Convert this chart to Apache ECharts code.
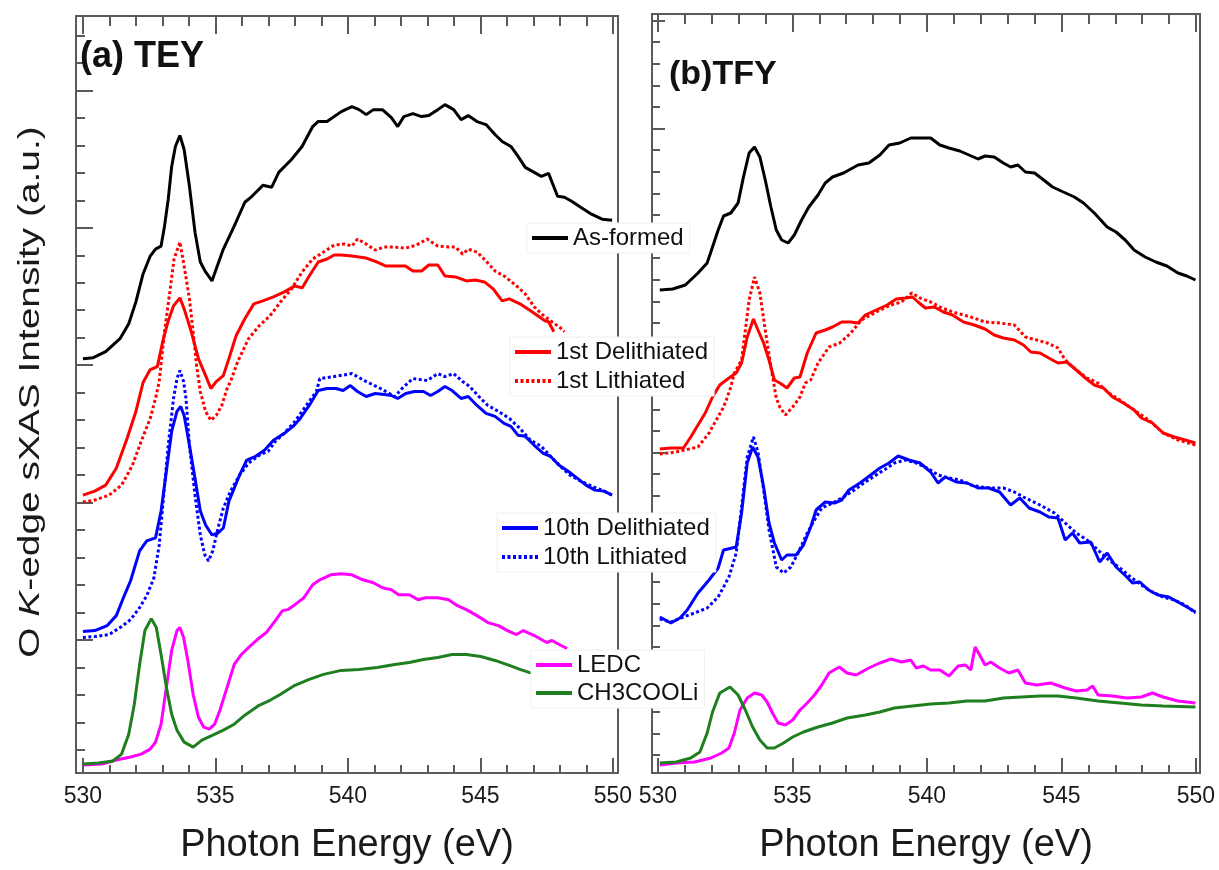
<!DOCTYPE html>
<html>
<head>
<meta charset="utf-8">
<title>O K-edge sXAS</title>
<script src="https://cdn.jsdelivr.net/npm/echarts@6/dist/echarts.min.js"></script>
<style>
  html, body { margin: 0; padding: 0; background: #fff; }
  #chart { width: 1219px; height: 870px; }
</style>
</head>
<body>
<div id="chart"></div>
<script>
// [photon energy (eV), intensity (a.u., offset per curve)]
const teyAsFormed = [[530.00,416],[530.39,417],[530.86,423],[531.40,436],[531.73,451],[532.00,473],[532.27,501],[532.54,519],[532.74,526],[532.95,529],[533.08,549],[533.22,576],[533.35,609],[533.49,629],[533.66,640],[533.82,626],[534.02,589],[534.23,543],[534.43,513],[534.63,503],[534.87,494],[535.03,506],[535.30,526],[535.71,549],[536.11,573],[536.38,579],[536.79,590],[537.12,588],[537.39,603],[537.87,616],[538.27,629],[538.67,649],[538.87,654],[539.21,654],[539.75,664],[540.15,669],[540.42,666],[540.69,661],[540.96,666],[541.30,666],[541.64,658],[541.88,649],[542.11,659],[542.45,662],[542.78,659],[543.05,660],[543.39,666],[543.66,671],[543.99,666],[544.27,656],[544.54,660],[544.87,654],[545.21,651],[545.55,641],[545.82,634],[546.15,629],[546.42,619],[546.69,608],[546.96,604],[547.30,599],[547.57,602],[547.91,579],[548.17,578],[548.44,574],[548.78,568],[549.19,561],[549.59,556],[549.97,555]];
const teyDelith1 = [[530.00,279],[530.45,283],[530.86,289],[531.26,306],[531.67,336],[532.00,363],[532.27,392],[532.54,405],[532.81,408],[533.01,433],[533.21,453],[533.42,469],[533.66,477],[533.82,466],[534.09,443],[534.36,416],[534.63,399],[534.83,386],[535.03,393],[535.30,399],[535.51,416],[535.78,439],[536.11,456],[536.45,471],[536.79,474],[537.19,478],[537.60,483],[538.00,489],[538.27,487],[538.54,499],[538.88,513],[539.21,516],[539.48,520],[539.75,520],[540.15,519],[540.69,517],[541.10,513],[541.44,509],[541.77,509],[542.17,509],[542.45,504],[542.78,504],[543.05,510],[543.39,510],[543.66,499],[544.06,498],[544.47,494],[544.81,495],[545.15,493],[545.48,486],[545.82,474],[546.09,476],[546.49,471],[546.89,464],[547.16,459],[547.43,454],[547.57,453],[547.77,443]];
const teyLith1 = [[530.00,272],[530.45,274],[530.99,279],[531.46,289],[531.87,309],[532.20,333],[532.54,356],[532.74,376],[532.88,393],[533.08,443],[533.28,483],[533.44,516],[533.66,533],[533.82,509],[534.02,476],[534.16,443],[534.29,409],[534.43,383],[534.63,363],[534.83,354],[535.03,359],[535.24,369],[535.44,386],[535.57,393],[535.84,413],[536.25,436],[536.65,449],[537.06,459],[537.46,473],[537.87,486],[538.27,503],[538.67,516],[539.08,523],[539.48,530],[539.89,531],[540.15,529],[540.36,536],[540.69,531],[541.03,525],[541.37,528],[541.77,528],[542.18,527],[542.58,530],[542.99,536],[543.39,529],[543.80,528],[544.06,528],[544.33,521],[544.54,526],[544.87,523],[545.21,514],[545.55,504],[545.95,498],[546.36,489],[546.69,481],[547.03,468],[547.30,461],[547.64,454],[547.97,448],[548.17,443]];
const teyDelith10 = [[530.00,142],[530.45,143],[530.92,148],[531.26,158],[531.53,176],[531.80,193],[532.14,223],[532.41,233],[532.74,236],[532.95,263],[533.15,303],[533.35,343],[533.55,363],[533.69,368],[533.82,359],[534.02,329],[534.23,296],[534.43,263],[534.63,249],[534.87,239],[535.10,241],[535.30,246],[535.51,273],[535.71,286],[535.91,299],[536.18,314],[536.52,318],[536.85,324],[537.19,334],[537.60,341],[537.93,348],[538.20,356],[538.54,369],[538.88,384],[539.21,386],[539.55,386],[539.82,384],[540.09,389],[540.36,383],[540.69,378],[541.03,381],[541.37,380],[541.64,379],[541.88,376],[542.18,381],[542.51,383],[542.85,383],[543.12,379],[543.39,383],[543.66,388],[543.93,384],[544.27,376],[544.54,378],[544.87,369],[545.21,361],[545.55,358],[545.89,351],[546.15,348],[546.42,339],[546.69,338],[547.03,329],[547.37,321],[547.64,318],[547.97,309],[548.31,303],[548.65,296],[548.98,289],[549.32,284],[549.66,283],[549.97,279]];
const teyLith10 = [[530.00,136],[530.45,137],[530.99,139],[531.46,147],[531.80,154],[532.14,166],[532.41,178],[532.68,196],[532.88,229],[533.04,276],[533.22,329],[533.42,376],[533.55,396],[533.66,404],[533.80,393],[533.89,376],[534.02,329],[534.23,279],[534.43,239],[534.60,219],[534.74,213],[534.90,223],[535.10,246],[535.30,266],[535.57,283],[535.91,299],[536.25,311],[536.65,319],[536.99,323],[537.26,333],[537.60,341],[538.00,353],[538.40,368],[538.81,383],[538.94,396],[539.48,398],[540.15,401],[540.69,393],[541.23,386],[541.77,378],[542.04,386],[542.45,396],[542.99,394],[543.39,401],[543.66,398],[543.99,401],[544.33,393],[544.60,388],[544.94,378],[545.28,369],[545.68,363],[546.09,356],[546.49,346],[546.89,334],[547.30,328],[547.64,318],[547.97,309],[548.38,299],[548.78,293],[549.19,288],[549.59,284],[549.97,279]];
const teyLedc = [[530.00,8],[530.72,9],[531.26,13],[531.80,16],[532.20,19],[532.54,24],[532.74,31],[532.95,49],[533.15,86],[533.35,123],[533.55,143],[533.66,146],[533.80,136],[533.96,113],[534.16,79],[534.36,56],[534.56,46],[534.77,44],[534.97,49],[535.17,63],[535.44,86],[535.71,109],[535.98,119],[536.25,126],[536.58,134],[536.92,141],[537.26,153],[537.53,163],[537.73,164],[538.00,169],[538.34,176],[538.67,189],[538.94,194],[539.35,199],[539.75,200],[540.15,199],[540.56,194],[540.96,191],[541.30,186],[541.64,184],[541.91,179],[542.31,179],[542.65,174],[542.92,176],[543.39,176],[543.80,174],[544.13,168],[544.47,164],[544.87,158],[545.28,151],[545.68,148],[546.02,143],[546.36,139],[546.62,143],[547.03,138],[547.50,131],[547.70,133],[548.04,128],[548.27,125]];
const teyAcetate = [[530.00,9],[530.59,10],[531.13,12],[531.46,19],[531.73,39],[531.94,69],[532.14,109],[532.34,143],[532.58,155],[532.77,146],[532.95,119],[533.15,86],[533.35,59],[533.55,43],[533.82,31],[534.16,26],[534.49,33],[534.90,38],[535.30,43],[535.71,49],[536.11,58],[536.65,68],[537.06,73],[537.46,79],[538.00,88],[538.54,94],[539.08,99],[539.75,103],[540.42,104],[541.10,106],[541.77,109],[542.31,111],[542.85,114],[543.39,116],[543.93,119],[544.47,119],[545.01,117],[545.55,113],[546.09,108],[546.49,104],[546.83,101],[547.57,98],[548.24,96]];

const tfyAsFormed = [[530.07,483],[530.55,484],[531.02,488],[531.49,500],[531.83,510],[532.03,526],[532.24,543],[532.44,557],[532.71,560],[532.98,570],[533.18,596],[533.39,620],[533.59,626],[533.79,616],[533.99,593],[534.20,566],[534.40,543],[534.60,533],[534.84,530],[535.07,538],[535.34,553],[535.61,566],[535.95,578],[536.22,590],[536.49,596],[536.90,600],[537.44,608],[537.84,610],[538.25,618],[538.59,628],[538.99,630],[539.40,635],[539.74,635],[540.14,635],[540.48,628],[540.82,625],[541.22,622],[541.56,618],[541.90,614],[542.16,617],[542.50,616],[542.84,610],[543.11,606],[543.38,608],[543.66,601],[544.00,600],[544.34,593],[544.67,586],[545.07,581],[545.48,576],[545.82,570],[546.22,560],[546.70,546],[547.03,541],[547.37,533],[547.70,523],[548.11,516],[548.51,511],[548.92,507],[549.33,500],[549.66,497],[549.98,493]];
const tfyDelith1 = [[530.07,324],[530.48,325],[530.95,325],[531.22,336],[531.49,348],[531.76,360],[532.03,376],[532.30,388],[532.64,395],[532.91,400],[533.11,410],[533.32,436],[533.55,454],[533.72,443],[533.93,430],[534.13,413],[534.33,393],[534.53,390],[534.80,385],[535.07,395],[535.28,396],[535.55,420],[535.88,440],[536.22,443],[536.49,446],[536.83,451],[537.17,451],[537.44,450],[537.71,458],[538.11,463],[538.52,468],[538.86,474],[539.20,475],[539.46,476],[539.67,471],[539.94,465],[540.28,466],[540.61,461],[540.95,458],[541.36,451],[541.76,448],[542.16,444],[542.50,438],[542.84,435],[543.25,433],[543.59,428],[543.86,421],[544.20,420],[544.53,415],[544.87,410],[545.20,411],[545.55,403],[545.89,395],[546.22,388],[546.56,385],[546.90,376],[547.30,370],[547.70,363],[547.97,355],[548.38,350],[548.78,340],[549.19,336],[549.60,333],[549.98,330]];
const tfyLith1 = [[530.07,319],[530.68,321],[531.49,326],[531.90,340],[532.17,353],[532.44,366],[532.57,375],[532.71,386],[532.84,400],[533.11,413],[533.39,473],[533.59,496],[533.79,480],[533.99,443],[534.20,406],[534.40,375],[534.53,366],[534.74,358],[535.01,366],[535.28,376],[535.48,390],[535.68,393],[535.95,410],[536.36,426],[536.76,430],[537.17,440],[537.57,453],[538.11,461],[538.66,468],[539.06,471],[539.44,480],[539.74,475],[540.14,471],[540.55,465],[541.09,460],[541.63,456],[542.16,451],[542.70,450],[543.25,448],[543.66,436],[544.08,433],[544.47,430],[544.87,425],[545.14,413],[545.55,403],[545.95,395],[546.36,390],[546.76,380],[547.17,373],[547.70,363],[548.24,353],[548.78,340],[549.33,333],[549.98,328]];
const tfyDelith10 = [[530.07,156],[530.48,150],[530.82,155],[531.09,163],[531.49,180],[531.90,193],[532.24,205],[532.44,223],[532.91,226],[533.11,260],[533.32,310],[533.52,326],[533.72,316],[533.93,286],[534.13,250],[534.33,230],[534.60,213],[534.80,218],[535.14,218],[535.41,228],[535.68,246],[535.88,263],[536.22,271],[536.56,270],[536.83,273],[537.10,283],[537.51,290],[537.91,298],[538.25,305],[538.59,310],[538.93,317],[539.33,313],[539.74,310],[540.14,301],[540.41,290],[540.68,296],[541.09,291],[541.49,290],[541.90,285],[542.30,285],[542.70,281],[543.11,268],[543.45,275],[543.80,265],[544.20,261],[544.53,256],[544.87,255],[545.14,233],[545.41,240],[545.68,230],[546.09,231],[546.42,211],[546.70,220],[547.03,206],[547.43,196],[547.64,190],[547.91,191],[548.24,183],[548.58,178],[548.99,176],[549.33,171],[549.73,165],[549.98,161]];
const tfyLith10 = [[530.07,154],[530.48,151],[530.95,156],[531.36,160],[531.83,165],[532.24,176],[532.64,196],[532.91,220],[533.11,266],[533.32,316],[533.55,336],[533.72,321],[533.93,283],[534.13,243],[534.40,206],[534.67,200],[534.94,206],[535.21,220],[535.55,240],[535.82,253],[536.09,265],[536.49,270],[536.90,276],[537.30,283],[537.71,291],[538.11,298],[538.52,305],[538.79,310],[539.20,313],[539.60,310],[540.01,305],[540.41,298],[540.82,295],[541.22,293],[541.63,288],[542.03,286],[542.43,285],[542.84,285],[543.25,281],[543.66,275],[544.20,268],[544.74,260],[545.14,250],[545.55,240],[545.95,233],[546.36,223],[546.76,213],[547.17,205],[547.57,196],[547.97,188],[548.38,181],[548.78,176],[549.19,173],[549.60,168],[549.98,160]];
const tfyLedc = [[530.07,8],[530.68,10],[531.36,11],[531.97,15],[532.37,20],[532.64,25],[532.84,40],[533.05,63],[533.32,75],[533.59,80],[533.86,78],[534.06,71],[534.26,60],[534.47,50],[534.74,48],[535.01,53],[535.28,63],[535.55,70],[535.82,78],[536.09,88],[536.36,100],[536.74,106],[537.03,100],[537.37,98],[537.84,105],[538.25,110],[538.66,114],[539.06,111],[539.40,113],[539.60,105],[539.87,107],[540.14,103],[540.48,103],[540.82,97],[541.16,107],[541.43,108],[541.63,103],[541.79,126],[541.96,118],[542.16,108],[542.37,111],[542.70,105],[543.05,100],[543.38,103],[543.66,90],[544.08,88],[544.60,90],[545.14,85],[545.55,82],[545.95,83],[546.16,87],[546.36,78],[546.90,77],[547.43,75],[547.97,76],[548.38,80],[548.78,76],[549.33,72],[549.98,70]];
const tfyAcetate = [[530.07,10],[530.68,11],[531.22,15],[531.56,21],[531.83,40],[532.03,61],[532.30,80],[532.68,86],[532.98,78],[533.25,63],[533.52,46],[533.79,33],[534.06,25],[534.33,25],[534.67,30],[535.01,36],[535.41,41],[535.95,46],[536.49,50],[537.03,55],[537.71,58],[538.25,61],[538.79,65],[539.46,67],[540.14,69],[540.82,70],[541.49,72],[542.16,72],[542.84,75],[543.52,76],[544.20,77],[544.87,77],[545.55,75],[546.36,72],[547.17,70],[547.97,68],[548.78,67],[549.98,66]];

const energyLabels = [530, 535, 540, 545, 550];
const energyMinor = [530, 531, 532, 533, 534, 535, 536, 537, 538, 539, 540, 541, 542, 543, 544, 545, 546, 547, 548, 549, 550];

const FONT = "'Liberation Sans', Arial, Helvetica, sans-serif";
const FRAME = '#5a5a5a';
const RED = '#ff0000', BLUE = '#0000ff', BLACK = '#000000', MAGENTA = '#ff00ff', GREEN = '#1f7f1f';
const DOTS = [3, 2.5];

// y ticks are plain axis decoration, evenly spaced
const teyTicks = [], teyMajor = [];
for (let i = 0; i <= 26; i++) { teyTicks.push(23 + 27.6 * i); if (i % 5 === 4) teyMajor.push(23 + 27.6 * i); }
const tfyTicks = [], tfyMajor = [];
for (let i = 0; i <= 34; i++) { tfyTicks.push(18 + 21.6 * i); if (i % 5 === 4) tfyMajor.push(18 + 21.6 * i); }

const chart = echarts.init(document.getElementById('chart'));

function energyAxis(grid, range, pos, ticks, len, labels) {
  const ax = {
    type: 'value', gridIndex: grid, position: pos, min: range[0], max: range[1],
    axisLine: {show: false},
    splitLine: {show: false},
    axisTick: {show: true, inside: true, length: len, customValues: ticks, lineStyle: {color: FRAME, width: 2}},
    axisLabel: {show: false}
  };
  if (labels) {
    ax.axisLabel = {show: true, customValues: energyLabels, margin: 12, fontSize: 23, color: '#1a1a1a', fontFamily: FONT};
    ax.name = 'Photon Energy (eV)';
    ax.nameLocation = 'middle';
    ax.nameGap = 54;
    ax.nameTextStyle = {fontSize: 38, color: '#1a1a1a', fontFamily: FONT};
  }
  return ax;
}

function intensityAxis(grid, max, ticks, len) {
  return {
    type: 'value', gridIndex: grid, position: 'left', min: 0, max: max,
    axisLine: {show: false},
    splitLine: {show: false},
    axisLabel: {show: false},
    axisTick: {show: true, inside: true, length: len, customValues: ticks, lineStyle: {color: FRAME, width: 2}}
  };
}

function curve(name, data, color, dotted, xi, yi) {
  return {
    name, type: 'line', data, xAxisIndex: xi, yAxisIndex: yi,
    symbol: 'none', showSymbol: false, silent: true,
    lineStyle: {color, width: 3, type: dotted ? DOTS : 'solid'},
    itemStyle: {color}
  };
}

function legendBox(names, left, top, gap) {
  return {
    data: names, left, top, orient: 'vertical', selectedMode: false,
    itemWidth: 36, itemHeight: 16, itemGap: gap,
    padding: [3, 6, 3, 3],
    backgroundColor: '#ffffff', borderColor: '#f0f0f0', borderWidth: 1,
    itemStyle: {opacity: 0},
    lineStyle: {width: 4},
    textStyle: {fontSize: 24, lineHeight: 24, color: '#111', fontFamily: FONT}
  };
}

const teyRange = [529.74, 550.19];
const tfyRange = [529.78, 550.15];

chart.setOption({
  animation: false,
  backgroundColor: '#ffffff',
  title: [
    {text: '(a) TEY', left: 80, top: 39, padding: 0, textStyle: {fontSize: 36, fontWeight: 'bold', color: '#111', fontFamily: FONT}},
    {text: '(b)TFY', left: 669, top: 58, padding: 0, textStyle: {fontSize: 34, fontWeight: 'bold', color: '#111', fontFamily: FONT}}
  ],
  grid: [
    {left: 76, top: 16, width: 542, height: 760, show: true, borderColor: FRAME, borderWidth: 2, backgroundColor: 'transparent'},
    {left: 652, top: 14, width: 548, height: 759, show: true, borderColor: FRAME, borderWidth: 2, backgroundColor: 'transparent'}
  ],
  xAxis: [
    energyAxis(0, teyRange, 'bottom', energyLabels, 15, true),
    energyAxis(0, teyRange, 'bottom', energyMinor, 8, false),
    energyAxis(0, teyRange, 'top', energyLabels, 18, false),
    energyAxis(0, teyRange, 'top', energyMinor, 10, false),
    energyAxis(1, tfyRange, 'bottom', energyLabels, 15, true),
    energyAxis(1, tfyRange, 'bottom', energyMinor, 8, false),
    energyAxis(1, tfyRange, 'top', energyLabels, 18, false),
    energyAxis(1, tfyRange, 'top', energyMinor, 10, false)
  ],
  yAxis: [
    intensityAxis(0, 760, teyTicks, 9),
    intensityAxis(0, 760, teyMajor, 17),
    intensityAxis(1, 759, tfyTicks, 8),
    intensityAxis(1, 759, tfyMajor, 13)
  ],
  legend: [
    legendBox(['As-formed'], 527, 223, 5),
    legendBox(['1st Delithiated', '1st Lithiated'], 510, 337, 5),
    legendBox(['10th Delithiated', '10th Lithiated'], 497, 513, 5),
    legendBox(['LEDC', 'CH3COOLi'], 531, 650, 4)
  ],
  graphic: [{
    type: 'text', x: 31, y: 392, rotation: Math.PI / 2, scaleX: 1.34,
    style: {
      text: '{n|O }{k|K}{n|-edge sXAS Intensity (a.u.)}',
      align: 'center', verticalAlign: 'middle',
      rich: {
        n: {fontSize: 29, fontFamily: FONT, fill: '#1a1a1a'},
        k: {fontSize: 29, fontFamily: FONT, fontStyle: 'italic', fill: '#1a1a1a'}
      }
    }
  }],
  series: [
    curve('As-formed', teyAsFormed, BLACK, false, 0, 0),
    curve('1st Delithiated', teyDelith1, RED, false, 0, 0),
    curve('1st Lithiated', teyLith1, RED, true, 0, 0),
    curve('10th Delithiated', teyDelith10, BLUE, false, 0, 0),
    curve('10th Lithiated', teyLith10, BLUE, true, 0, 0),
    curve('LEDC', teyLedc, MAGENTA, false, 0, 0),
    curve('CH3COOLi', teyAcetate, GREEN, false, 0, 0),
    curve('As-formed', tfyAsFormed, BLACK, false, 4, 2),
    curve('1st Delithiated', tfyDelith1, RED, false, 4, 2),
    curve('1st Lithiated', tfyLith1, RED, true, 4, 2),
    curve('10th Delithiated', tfyDelith10, BLUE, false, 4, 2),
    curve('10th Lithiated', tfyLith10, BLUE, true, 4, 2),
    curve('LEDC', tfyLedc, MAGENTA, false, 4, 2),
    curve('CH3COOLi', tfyAcetate, GREEN, false, 4, 2)
  ]
});
</script>
</body>
</html>
